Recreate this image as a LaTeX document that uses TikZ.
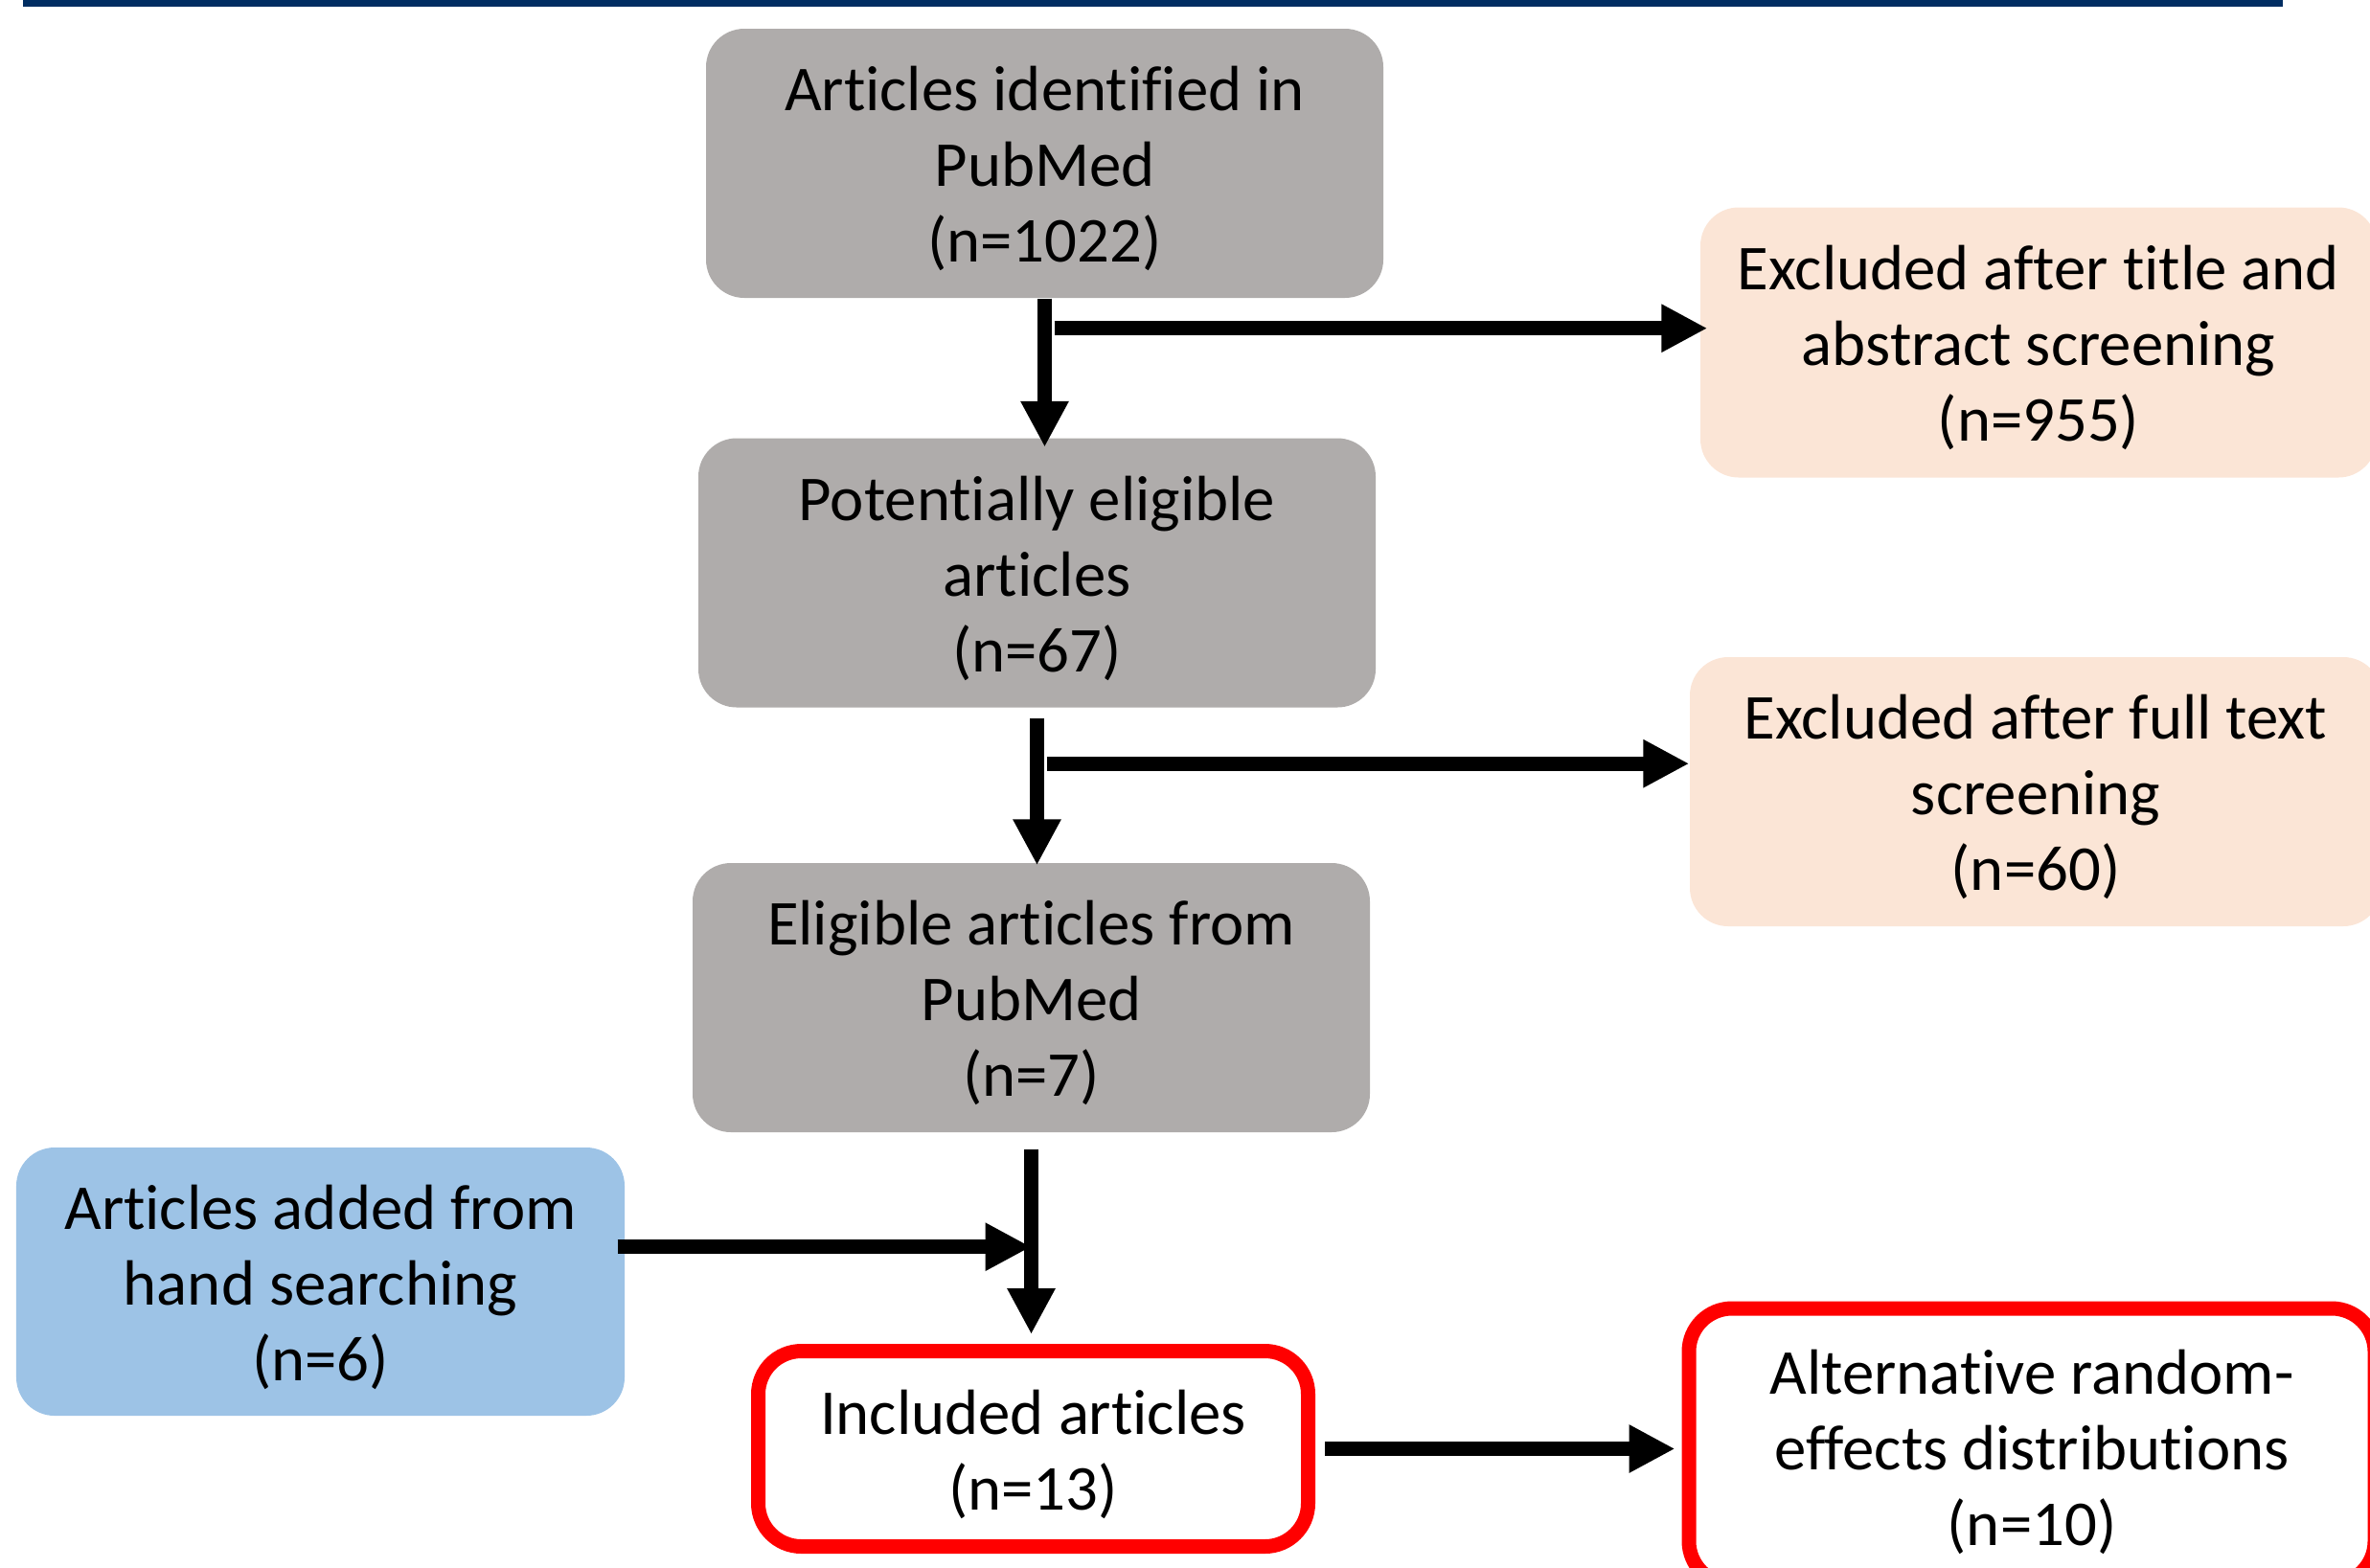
\documentclass[tikz,border=0pt]{standalone}
\usepackage{fontspec}
\setmainfont{Carlito}[Ligatures=NoCommon]
\usetikzlibrary{arrows.meta}
\definecolor{boxgrey}{RGB}{175,172,171}
\definecolor{boxpeach}{RGB}{251,229,214}
\definecolor{boxblue}{RGB}{157,195,230}
\definecolor{barnavy}{RGB}{0,45,98}
\newcommand{\lift}{\rule{0pt}{0.58cm}}
\begin{document}
\begin{tikzpicture}
    [
        box/.style = {shape=rectangle, rounded corners=0.4cm, align=center, inner sep=0pt, font=\fontsize{19}{22.5}\selectfont},
        grey/.style = {box, fill=boxgrey, minimum width=7.07cm, minimum height=2.81cm},
        excl/.style = {box, fill=boxpeach, minimum height=2.82cm},
        added/.style = {box, fill=boxblue, minimum width=6.35cm, minimum height=2.80cm},
        incl/.style = {box, draw=red, line width=0.15cm, fill=white, rounded corners=0.45cm},
        flow/.style = {line width=0.15cm, -{Triangle[length=0.48cm, width=0.47cm]}},
    ]

    \useasboundingbox (0,0) rectangle (24.74,-16.36);
    \fill[barnavy] (0.24,0) rectangle (23.83,-0.07);

    \node[grey] (found) at (10.905,-1.705) {\lift Articles identified in\\PubMed\\(n=1022)};
    \node[grey] (potential) at (10.825,-5.98) {\lift Potentially eligible\\articles\\(n=67)};
    \node[grey] (eligible) at (10.765,-10.415) {\lift Eligible articles from\\PubMed\\(n=7)};
    \node[added] (hand) at (3.345,-13.38) {\lift Articles added from\\hand searching\\(n=6)};
    \node[incl, minimum width=5.74cm, minimum height=2.04cm] (included) at (10.785,-15.125) {\lift Included articles\\(n=13)};

    \node[excl, minimum width=7.06cm] (exTitle) at (21.28,-3.575) {\lift Excluded after title and\\abstract screening\\(n=955)};
    \node[excl, minimum width=7.22cm, minimum height=2.81cm] (exFull) at (21.25,-8.265) {\lift Excluded after full text\\screening\\(n=60)};
    \node[incl, minimum width=7.16cm, minimum height=2.88cm] (altRE) at (21.21,-15.10) {\lift Alternative random-\\effects distributions\\(n=10)};

    \coordinate (split1) at ([yshift=-0.31cm]found.south);
    \coordinate (split2) at ([yshift=-0.58cm]potential.south);
    \coordinate (merge) at ([yshift=-1.19cm]eligible.south);

    \draw [flow] (found.south) -- ([yshift=-0.1cm]found.south |- potential.north);
    \draw [flow] ([xshift=0.1cm]split1) -- ([xshift=0.08cm]split1 -| exTitle.west);

    \draw [flow] ([yshift=-0.11cm]potential.south) -- ([yshift=-0.03cm]potential.south |- eligible.north);
    \draw [flow] ([xshift=0.1cm]split2) -- (split2 -| exFull.west);

    \draw [flow] ([yshift=-0.17cm]eligible.south) -- ([yshift=0.1cm]eligible.south |- included.north);
    \draw [flow] ([xshift=-0.08cm]hand.east |- merge) -- (merge);

    \draw [flow] ([xshift=0.1cm]included.east) -- ([xshift=-0.07cm]altRE.west |- included.east);
\end{tikzpicture}
\end{document}
